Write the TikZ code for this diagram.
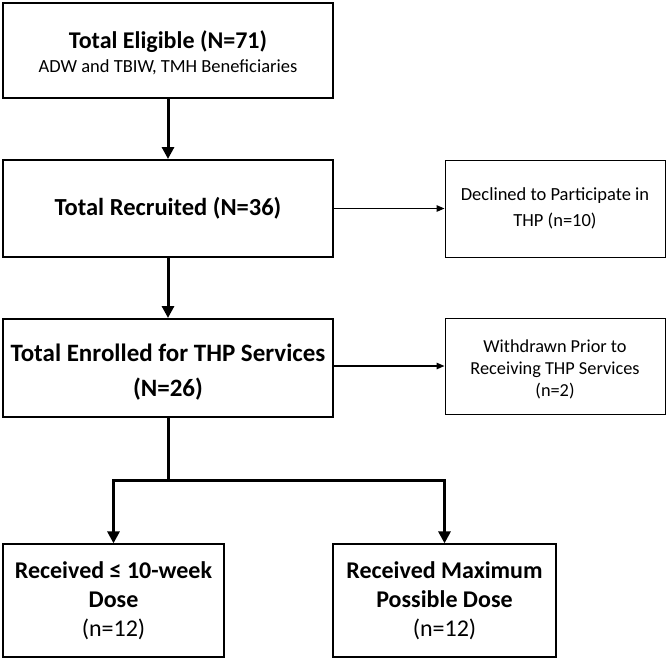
\documentclass[tikz,border=0pt]{standalone}
\usepackage{fontspec}
\setmainfont{Carlito}
\usetikzlibrary{arrows.meta}
\tikzset{
  x=1pt, y=-1pt,
  bigbox/.style={draw, line width=2pt, inner sep=0pt, align=center},
  sidebox/.style={draw, line width=1pt, inner sep=0pt, align=center},
  thick arrow/.style={line width=3pt, -{Triangle[length=12pt,width=12pt]}},
  thin arrow/.style={line width=1.4pt, -{Triangle[length=8pt,width=6.5pt]}},
  thick line/.style={line width=3pt}
}
\begin{document}
\begin{tikzpicture}
\useasboundingbox (0,0) rectangle (668,659);
\node[bigbox, minimum width=330pt, minimum height=95pt] (elig) at (168,50.5)
  {};
\node[align=center, inner sep=0pt] (eligtxt) at (168,53)
  {{\fontsize{24}{26}\selectfont\bfseries Total Eligible (N=71)}\\[6pt]{\fontsize{18.5}{22}\selectfont ADW and TBIW, TMH Beneficiaries}};
\node[bigbox, minimum width=330pt, minimum height=97pt] (recr) at (168,208.5)
  {\fontsize{24.5}{26}\selectfont\bfseries Total Recruited (N=36)};
\node[sidebox, minimum width=220pt, minimum height=97pt, font={\fontsize{18.5}{26}\selectfont}] (decl) at (555,208.5)
  {Declined to Participate in\\THP (n=10)};
\node[bigbox, minimum width=330pt, minimum height=98pt] (enrl) at (168,368)
  {};
\node[align=center, inner sep=0pt, font={\fontsize{25}{35}\selectfont\bfseries}] (enrltxt) at (168,372)
  {Total Enrolled for THP Services\\(N=26)};
\node[sidebox, minimum width=220pt, minimum height=96pt] (wdrn) at (555,366)
  {};
\node[align=center, inner sep=0pt, font={\fontsize{18.3}{22}\selectfont}] (wdrntxt) at (555,369)
  {Withdrawn Prior to\\Receiving THP Services\\(n=2)};
\node[bigbox, line width=1.3pt, minimum width=221pt, minimum height=113pt, font={\fontsize{24}{29}\selectfont}] (low) at (113.5,600.5)
  {\textbf{Received ≤ 10-week}\\\textbf{Dose}\\(n=12)};
\node[bigbox, line width=1.3pt, minimum width=223pt, minimum height=113pt, font={\fontsize{24}{29}\selectfont}] (max) at (444.5,600.5)
  {\textbf{Received Maximum}\\\textbf{Possible Dose}\\(n=12)};
\coordinate (split) at (168,480);
\draw[thick arrow] (elig.south) -- (recr.north);
\draw[thick arrow] (recr.south) -- (enrl.north);
\draw[thin arrow] (recr.east) -- (decl.west);
\draw[thin arrow] (enrl.east |- wdrn.west) -- (wdrn.west);
\draw[thick line] (enrl.south) -- (split);
\draw[thick arrow] (split) -| (low.north);
\draw[thick arrow] (split) -| (max.north);
\end{tikzpicture}
\end{document}
